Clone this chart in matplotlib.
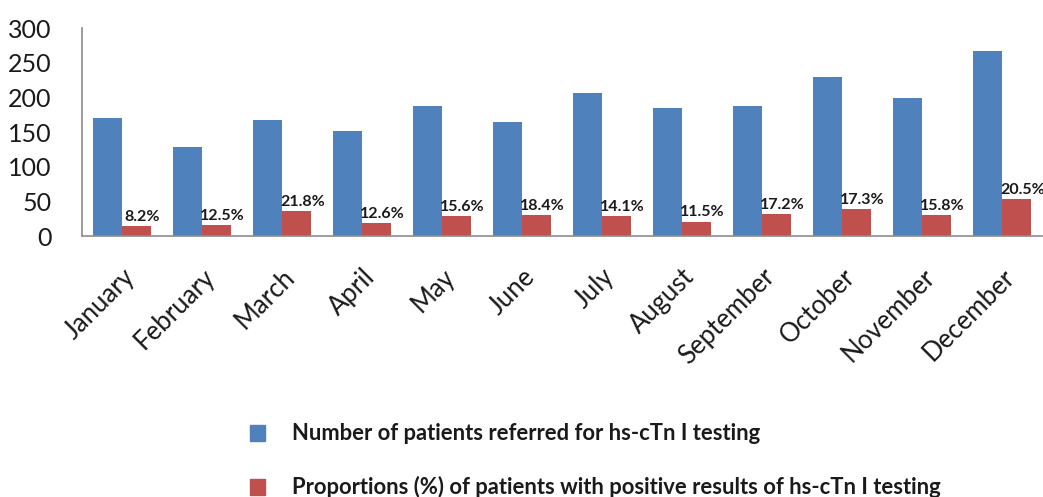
import numpy as np
import matplotlib
matplotlib.use("Agg")
import matplotlib.pyplot as plt
from matplotlib.patches import Rectangle

months = ["January", "February", "March", "April", "May", "June", "July",
          "August", "September", "October", "November", "December"]
referred = [171, 129, 167, 152, 188, 165, 207, 185, 188, 229, 199, 267]
positive = [14, 16, 36, 19, 29, 30, 29, 21, 32, 39, 31, 54]
pct_labels = ["8.2%", "12.5%", "21.8%", "12.6%", "15.6%", "18.4%", "14.1%",
              "11.5%", "17.2%", "17.3%", "15.8%", "20.5%"]
yticks = [0, 50, 100, 150, 200, 250, 300]
legend_labels = ["Number of patients referred for hs-cTn I testing",
                 "Proportions (%) of patients with positive results of hs-cTn I testing"]

blue = "#4F81BD"
red = "#C0504D"

plt.rcParams["font.family"] = ["Lato", "DejaVu Sans"]

fig = plt.figure(figsize=(10.43, 4.97), dpi=100)
ax = fig.add_axes([0.0786, 0.525, 0.9204, 0.4185])

x = np.arange(len(months))
w = 0.36
ax.bar(x - w / 2, referred, width=w, color=blue, zorder=2)
ax.bar(x + w / 2, positive, width=w, color=red, zorder=2)

for i, (v, lab) in enumerate(zip(positive, pct_labels)):
    ax.text(i + w / 2 + 0.075, v + 3, lab, ha="center", va="bottom",
            fontsize=11.5, fontweight="bold", color="#1a1a1a")

ax.set_xlim(-0.5, len(months) - 0.5)
ax.set_ylim(0, 300)
ax.set_yticks(yticks)
ax.set_yticklabels([str(t) for t in yticks], fontsize=18, color="#1a1a1a")
ax.tick_params(axis="y", length=0, pad=22)
ax.set_xticks(x)
ax.set_xticklabels(months, rotation=45, ha="right", rotation_mode="anchor",
                   fontsize=18.5, color="#1a1a1a")
ax.tick_params(axis="x", length=0, pad=20)

for s in ["top", "right"]:
    ax.spines[s].set_visible(False)
for s in ["left", "bottom"]:
    ax.spines[s].set_color("#8c8c8c")
    ax.spines[s].set_linewidth(1.2)

# legend below the chart
for yc, col, lab in [(433, blue, legend_labels[0]), (487, red, legend_labels[1])]:
    fy = 1 - yc / 497
    fig.patches.append(Rectangle((250 / 1043, fy - 8 / 497), 15 / 1043, 16 / 497,
                                 transform=fig.transFigure, color=col))
    fig.text(292 / 1043, fy, lab, fontsize=15.8, fontweight="bold",
             va="center", ha="left", color="#1a1a1a")

fig.savefig("out.png", dpi=100)
